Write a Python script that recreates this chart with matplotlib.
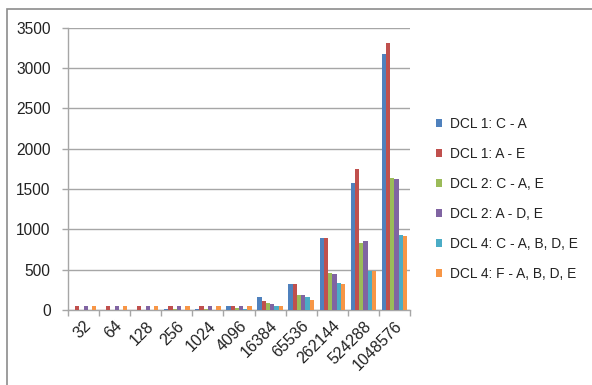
import matplotlib
matplotlib.use("Agg")
import matplotlib.pyplot as plt
import numpy as np
from matplotlib.patches import Rectangle, Patch

categories = ["32", "64", "128", "256", "1024", "4096", "16384", "65536", "262144", "524288", "1048576"]
series_names = ["DCL 1: C - A", "DCL 1: A - E", "DCL 2: C - A, E", "DCL 2: A - D, E",
                "DCL 4: C - A, B, D, E", "DCL 4: F - A, B, D, E"]
dcl1_ca = [0, 0, 0, 10, 12, 50, 162, 322, 893, 1574, 3178]
dcl1_ae = [45, 45, 45, 45, 55, 50, 112, 322, 893, 1744, 3314]
dcl2_cae = [0, 0, 0, 10, 10, 25, 83, 182, 455, 835, 1636]
dcl2_ade = [45, 45, 45, 45, 45, 50, 75, 182, 442, 855, 1624]
dcl4_cabde = [0, 0, 0, 5, 5, 12, 50, 161, 335, 483, 926]
dcl4_fabde = [45, 45, 45, 45, 45, 50, 50, 124, 322, 483, 913]
series = [dcl1_ca, dcl1_ae, dcl2_cae, dcl2_ade, dcl4_cabde, dcl4_fabde]
colors = ["#4F81BD", "#C0504D", "#9BBB59", "#8064A2", "#4BACC6", "#F79646"]

plt.rcParams['font.family'] = ['Liberation Sans', 'DejaVu Sans']

fig = plt.figure(figsize=(5.92, 3.85), dpi=100)
ax = fig.add_axes([68/592, 1-310/385, (410-68)/592, (310-27.7)/385])

x = np.arange(len(categories))
n = len(series)
group_w = 0.82
bw = group_w / n
for i, (vals, c, name) in enumerate(zip(series, colors, series_names)):
    ax.bar(x - group_w/2 + bw*(i+0.5), vals, width=bw, color=c, label=name, zorder=3, linewidth=0)

ax.set_xlim(-0.5, len(categories)-0.5)
ax.set_ylim(0, 3500)
ax.set_yticks(np.arange(0, 3501, 500))
ax.yaxis.grid(True, color="#A6A6A6", linewidth=1.0, zorder=0)
ax.set_axisbelow(True)

for s in ["top", "right"]:
    ax.spines[s].set_visible(False)
for s in ["left", "bottom"]:
    ax.spines[s].set_color("#A6A6A6")
    ax.spines[s].set_linewidth(1.0)

ax.set_xticks(x)
ax.set_xticklabels(categories, rotation=45, ha="right", rotation_mode="anchor", fontsize=11.5)
ax.tick_params(axis="x", length=0, pad=6)
ax.set_xticks(np.arange(-0.5, len(categories)), minor=True)
ax.tick_params(axis="x", which="minor", length=4.5, color="#A6A6A6", width=1)
ax.tick_params(axis="y", length=4.5, color="#A6A6A6", width=1, labelsize=11.2, pad=8)
for t in ax.get_yticklabels() + ax.get_xticklabels():
    t.set_color("#222222")

handles = [Patch(facecolor=c, edgecolor="none") for c in colors]
leg = fig.legend(handles, series_names, loc="upper left", bbox_to_anchor=(436/592, 1-117/385),
                 frameon=False, fontsize=9.9, handlelength=0.45, handleheight=0.45,
                 handletextpad=0.55, labelspacing=1.16, borderaxespad=0, borderpad=0)
for t in leg.get_texts():
    t.set_color("#222222")

fig.patches.append(Rectangle((7/592, -0.1), 1.2, 1 - 8.5/385 + 0.1, transform=fig.transFigure,
                             fill=False, edgecolor="#8C8C8C", linewidth=1.2))

fig.savefig("out.png", dpi=100)
